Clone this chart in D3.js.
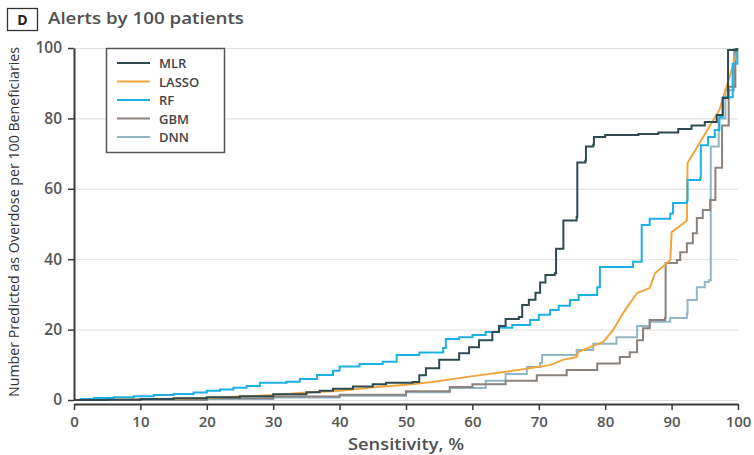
<!DOCTYPE html>
<html>
<head>
<meta charset="utf-8">
<script src="https://cdn.jsdelivr.net/npm/d3@7"></script>
<style>
  html, body { margin: 0; padding: 0; background: #fff; }
  svg text { font-family: 'Open Sans', 'Noto Sans', sans-serif; }
</style>
</head>
<body>
<div id="chart"></div>
<script>
(function () {
  'use strict';

  var seriesNames = ['MLR', 'LASSO', 'RF', 'GBM', 'DNN'];
  var xTicks = [0, 10, 20, 30, 40, 50, 60, 70, 80, 90, 100];
  var yTicks = [0, 20, 40, 60, 80, 100];

  // [sensitivity %, number predicted per 100]
  var mlr = [[0,0],[5,0.1],[10,0.3],[15,0.5],[20,0.8],[25,1.1],[30,1.6],[35,2.2],[37,2.6],[39,3.2],
    [42,3.8],[45,4.5],[47,4.9],[51,5.1],[52,7],[53,9],[55,11.4],[58,13.3],[59.5,15],[61,17],[63,19.3],
    [64,21],[65,23],[67,23.6],[67.5,27],[68.5,28.5],[69.5,30.5],[70.2,33.4],[71,35.5],[72.4,36],
    [72.6,43],[73.5,43],[73.7,51],[75.7,52],[75.8,67.5],[77,68],[77.1,72],[78.2,72.5],[78.3,74.7],
    [80,75.3],[85,75.6],[88,76],[91,77],[93,78],[95,79],[96.8,81],[97.7,85.8],[98.5,99.4],[99.8,100]];

  var lasso = [[0,0],[10,0.2],[20,0.6],[30,1.4],[34,2],[40,2.6],[45.6,3.7],[50,4.3],[54,5.1],[59,6.5],
    [65,8],[71.7,9.9],[73.6,11.4],[75.7,12.2],[75.9,13.6],[79.7,16.5],[81.2,19.9],[82.7,24.7],
    [84.8,30.4],[86.7,31.8],[87.5,36],[89,38.4],[89.8,39.8],[90,47.7],[91.3,49.5],[92.3,51],
    [92.4,67.3],[97.2,82.4],[99.5,96.6],[100,100]];

  var rf = [[0,0],[1,0.3],[3,0.6],[6,0.8],[9,1.1],[12,1.4],[15,1.7],[18,2.1],[20,2.6],[22,3],[24,3.5],
    [26,4],[28,4.9],[32,5.2],[34,6],[36.6,7.1],[39,8.3],[40,9.5],[43,10.2],[46.5,10.9],[48.6,12.8],
    [52,13.5],[55.6,14.8],[56,17.3],[58,17.8],[60,18.5],[62,19.3],[64,20.5],[66,21.3],[68.7,22.7],
    [70,24.2],[71.7,25.6],[73,26.8],[74.7,28.4],[76,29.8],[78.8,32],[79.2,37.8],[84.2,39.3],
    [85.5,49.7],[86.7,51.5],[89.8,53],[90.2,56],[92.3,56.5],[92.4,62.5],[94.3,63],[94.4,72.4],
    [95.5,74.7],[96.5,76.7],[97.2,80.4],[97.7,86],[99.2,95.5],[99.9,100]];

  var gbm = [[0,0],[10,0.1],[20,0.5],[30,1],[40,1.5],[50,2.5],[56.6,3.7],[60,4.5],[65,5.5],[69.7,7],
    [74.2,8.5],[78.8,10.4],[82.2,12.2],[83.7,13.6],[84.8,17],[85.7,20.4],[86.7,22.7],[89,23.3],
    [89.1,38.9],[90.8,39.8],[91.3,42],[92.3,44.5],[93.2,47.4],[93.8,51.7],[94.7,54],[95.8,56.8],
    [96.6,66],[97.6,78],[98.6,89],[99.6,100]];

  var dnn = [[0,0],[10,0.1],[20,0.3],[30,0.7],[40,1.2],[50,2.2],[56.6,3.4],[62,5.5],[65,7.4],[68.2,9.4],
    [70.2,10.5],[70.5,12.8],[75.7,14.2],[78.2,16],[81.7,17.8],[84.8,21],[86.7,22.2],[89.8,23.3],
    [92.3,24.5],[92.4,28.4],[93.8,32],[95,33.5],[95.6,34],[95.9,72],[97.1,80],[98.1,88],[99.4,100]];

  var seriesData = { MLR: mlr, LASSO: lasso, RF: rf, GBM: gbm, DNN: dnn };

  var COL = {
    MLR:   '#2f4b52',
    LASSO: '#f2a53c',
    RF:    '#1cb1e4',
    GBM:   '#8b827c',
    DNN:   '#91b6c4',
    grid:  '#dedede',
    axis:  '#3a3a3a',
    text:  '#555'
  };

  var W = 754, H = 455;
  var mg = { top: 48, right: 16, bottom: 55, left: 74 };
  var w = W - mg.left - mg.right;
  var h = H - mg.top - mg.bottom;

  var svg = d3.select('#chart').append('svg')
    .attr('width', W).attr('height', H);

  // Panel title
  svg.append('rect')
    .attr('x', 7.5).attr('y', 8.5).attr('width', 30).attr('height', 22)
    .attr('fill', '#fff').attr('stroke', '#333').attr('stroke-width', 1.3);
  svg.append('text')
    .attr('x', 22.5).attr('y', 24.5).attr('text-anchor', 'middle')
    .attr('font-size', 14).attr('font-weight', 700).attr('fill', '#222')
    .text('D');
  svg.append('text')
    .attr('x', 48).attr('y', 24)
    .attr('font-size', 17).attr('font-weight', 600).attr('fill', '#505050')
    .attr('textLength', 196).attr('lengthAdjust', 'spacingAndGlyphs')
    .text('Alerts by 100 patients');

  var g = svg.append('g')
    .attr('transform', 'translate(' + mg.left + ',' + mg.top + ')');

  var x = d3.scaleLinear().domain([0, 100]).range([0, w]);
  var y = d3.scaleLinear().domain([0, 100]).range([h, 0]);

  // Grid lines
  g.append('g')
    .call(d3.axisLeft(y).tickValues(yTicks).tickSize(-w).tickFormat(''))
    .call(function (ax) {
      ax.select('.domain').remove();
      ax.selectAll('.tick line').attr('stroke', COL.grid).attr('stroke-width', 1);
    });

  // Curves, MLR last so it sits on top
  ['DNN', 'GBM', 'LASSO', 'RF', 'MLR'].forEach(function (name) {
    var curve = name === 'LASSO' ? d3.curveLinear : d3.curveStepAfter;
    g.append('path')
      .datum(seriesData[name])
      .attr('fill', 'none')
      .attr('stroke', COL[name])
      .attr('stroke-width', 2)
      .attr('d', d3.line()
        .x(function (d) { return x(d[0]); })
        .y(function (d) { return y(d[1]); })
        .curve(curve));
  });

  // X axis
  g.append('g')
    .attr('transform', 'translate(0,' + (h + 4) + ')')
    .call(d3.axisBottom(x).tickValues(xTicks).tickSize(6).tickSizeOuter(0))
    .call(function (ax) {
      ax.select('.domain').attr('stroke', COL.axis).attr('stroke-width', 2);
      ax.selectAll('.tick line').attr('stroke', COL.axis).attr('stroke-width', 1.5);
      ax.selectAll('text').attr('font-size', 15).attr('font-weight', 600).attr('fill', COL.text)
        .attr('font-family', "'Open Sans', sans-serif").attr('y', 9).attr('dy', '0.95em');
    });

  // Y axis
  g.append('g')
    .call(d3.axisLeft(y).tickValues(yTicks).tickSize(6).tickSizeOuter(0))
    .call(function (ax) {
      ax.select('.domain').attr('stroke', COL.axis).attr('stroke-width', 2);
      ax.selectAll('.tick line').attr('stroke', COL.axis).attr('stroke-width', 1.5);
      ax.selectAll('text').attr('font-size', 15.5).attr('font-weight', 600).attr('fill', COL.text)
        .attr('font-family', "'Open Sans', sans-serif").attr('x', -12);
    });

  // Axis titles
  svg.append('text')
    .attr('x', 406).attr('y', 450)
    .attr('text-anchor', 'middle')
    .attr('font-size', 16).attr('font-weight', 600).attr('fill', '#505050')
    .attr('textLength', 116).attr('lengthAdjust', 'spacingAndGlyphs')
    .text('Sensitivity, %');

  svg.append('text')
    .attr('transform', 'translate(19,' + (mg.top + h / 2 - 2) + ') rotate(-90)')
    .attr('text-anchor', 'middle')
    .attr('font-size', 14).attr('fill', '#333')
    .attr('textLength', 350).attr('lengthAdjust', 'spacingAndGlyphs')
    .text('Number Predicted as Overdose per 100 Beneficiaries');

  // Legend
  var lg = svg.append('g').attr('transform', 'translate(106,48)');
  lg.append('rect')
    .attr('x', 0.5).attr('y', 0.5).attr('width', 118).attr('height', 104)
    .attr('fill', '#fff').attr('stroke', '#555').attr('stroke-width', 1.5);
  seriesNames.forEach(function (name, i) {
    var yy = 15 + i * 18.5;
    lg.append('line')
      .attr('x1', 11).attr('x2', 44).attr('y1', yy).attr('y2', yy)
      .attr('stroke', COL[name]).attr('stroke-width', 2);
    lg.append('text')
      .attr('x', 53).attr('y', yy + 5)
      .attr('font-size', 13).attr('font-weight', 600).attr('fill', '#444')
      .text(name);
  });
}());
</script>
</body>
</html>
